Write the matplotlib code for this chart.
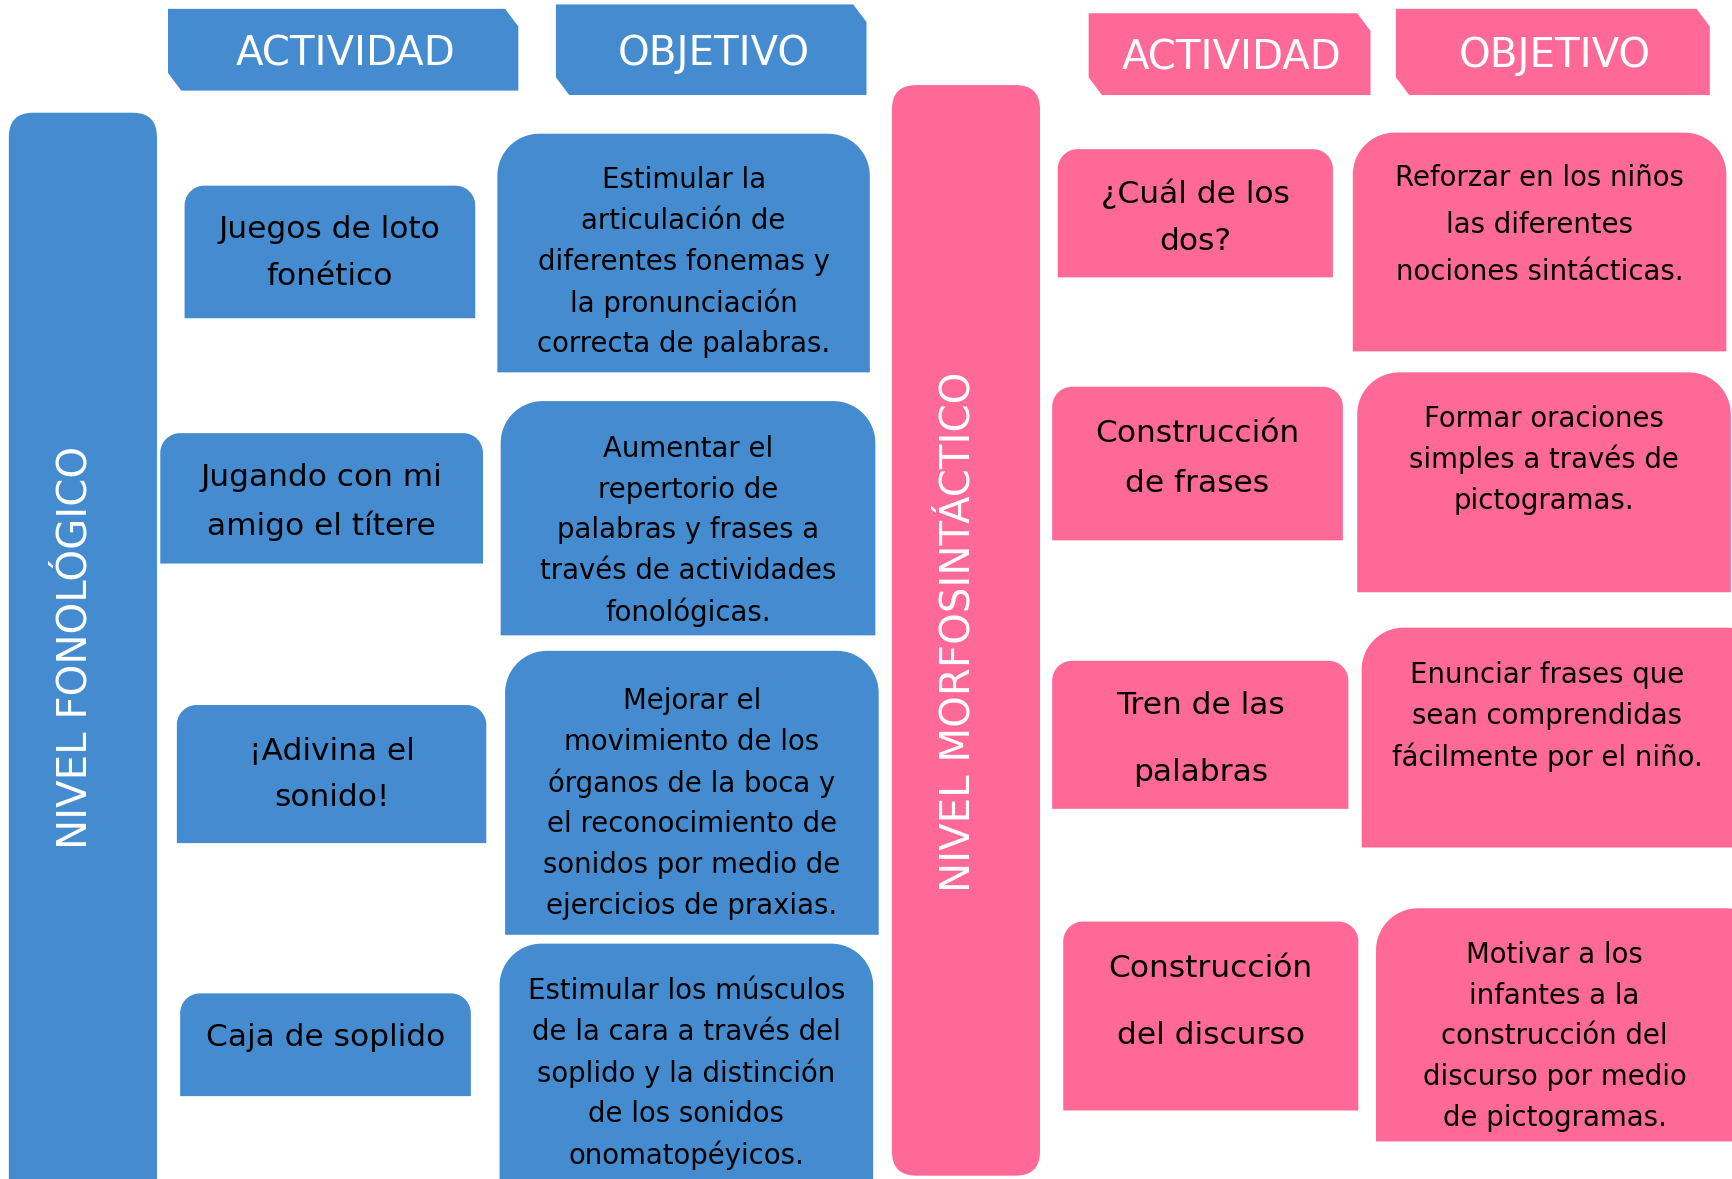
import numpy as np
import matplotlib
matplotlib.use("Agg")
import matplotlib.pyplot as plt
from matplotlib.patches import Polygon, FancyBboxPatch

BLUE = "#448CCF"
PINK = "#FF6998"

# texts
levels = ["NIVEL FONOLÓGICO", "NIVEL MORFOSINTÁCTICO"]
headers = ["ACTIVIDAD", "OBJETIVO"]

blue_activities = [
    ["Juegos de loto", "fonético"],
    ["Jugando con mi", "amigo el títere"],
    ["¡Adivina el", "sonido!"],
    ["Caja de soplido"],
]
blue_objectives = [
    ["Estimular la", "articulación de", "diferentes fonemas y",
     "la pronunciación", "correcta de palabras."],
    ["Aumentar el", "repertorio de", "palabras y frases a",
     "través de actividades", "fonológicas."],
    ["Mejorar el", "movimiento de los", "órganos de la boca y",
     "el reconocimiento de", "sonidos por medio de",
     "ejercicios de praxias."],
    ["Estimular los músculos", "de la cara a través del",
     "soplido y la distinción", "de los sonidos", "onomatopéyicos."],
]
pink_activities = [
    ["¿Cuál de los", "dos?"],
    ["Construcción", "de frases"],
    ["Tren de las", "palabras"],
    ["Construcción", "del discurso"],
]
pink_objectives = [
    ["Reforzar en los niños", "las diferentes", "nociones sintácticas."],
    ["Formar oraciones", "simples a través de", "pictogramas."],
    ["Enunciar frases que", "sean comprendidas", "fácilmente por el niño."],
    ["Motivar a los", "infantes a la", "construcción del",
     "discurso por medio", "de pictogramas."],
]

# layout (x0, y0, x1, y1, text centre y, line step) in a 1568x1067 frame
blue_act_boxes = [(167, 168, 430, 288, 229, 43), (145, 392, 437, 510, 454, 43),
                  (160, 638, 440, 763, 701, 42), (163, 899, 426, 992, 939, 43)]
blue_obj_boxes = [(450, 121, 787, 337, 237, 37), (453, 363, 792, 575, 480, 37),
                  (457, 589, 795, 846, 727, 37.2), (452, 854, 790, 1090, 971, 37.2)]
pink_act_boxes = [(957, 135, 1206, 251, 197, 44), (952, 350, 1215, 489, 415, 46),
                  (952, 598, 1220, 732, 669, 61), (962, 834, 1229, 1005, 907, 61)]
pink_obj_boxes = [(1224, 120, 1562, 318, 204, 42.5), (1228, 337, 1566, 536, 416, 37),
                  (1232, 568, 1600, 767, 648, 37), (1245, 822, 1600, 1033, 938, 37)]

FONT = "DejaVu Sans"


def top_round(ax, x0, y0, x1, y1, r, color):
    t1 = np.linspace(np.pi, 1.5 * np.pi, 20)
    t2 = np.linspace(1.5 * np.pi, 2 * np.pi, 20)
    pts = [(x0, y1)]
    pts += list(zip(x0 + r + r * np.cos(t1), y0 + r + r * np.sin(t1)))
    pts += list(zip(x1 - r + r * np.cos(t2), y0 + r + r * np.sin(t2)))
    pts += [(x1, y1)]
    p = Polygon(pts, closed=True, facecolor=color, edgecolor="none")
    ax.add_patch(p)
    return p


def snip_box(ax, x0, y0, x1, y1, color, sx=12, sy=16):
    pts = [(x0, y0), (x1 - sx, y0), (x1, y0 + sy), (x1, y1),
           (x0 + sx, y1), (x0, y1 - sy)]
    ax.add_patch(Polygon(pts, closed=True, facecolor=color, edgecolor="none"))


def lines_text(ax, lines, xc, yc, step, size, patch):
    n = len(lines)
    for i, line in enumerate(lines):
        y = yc + (i - (n - 1) / 2) * step
        t = ax.text(xc, y, line, ha="center", va="center", fontsize=size,
                    color="black", family=FONT)
        t.set_clip_path(patch)


fig = plt.figure(figsize=(17.33, 11.79), dpi=100)
ax = fig.add_axes([0, 0, 1, 1])
ax.set_xlim(0, 1568)
ax.set_ylim(1067, 0)
ax.axis("off")

# vertical level bars
for (x0, y0, x1, y1), col, label, yc in [((8, 102, 142, 1100), BLUE, levels[0], 586),
                                          ((807, 77, 941, 1064), PINK, levels[1], 572)]:
    ax.add_patch(FancyBboxPatch((x0, y0), x1 - x0, y1 - y0,
                                boxstyle="round,pad=0,rounding_size=22",
                                facecolor=col, edgecolor="none"))
    ax.text((x0 + x1) / 2 - 7, yc, label, rotation=90, ha="center", va="center",
            fontsize=29, color="white", family=FONT)

# headers
for (x0, y0, x1, y1), col, label in [((152, 8, 469, 82), BLUE, headers[0]),
                                      ((503, 4, 784, 86), BLUE, headers[1]),
                                      ((985, 12, 1240, 86), PINK, headers[0]),
                                      ((1263, 8, 1547, 86), PINK, headers[1])]:
    snip_box(ax, x0, y0, x1, y1, col)
    ax.text((x0 + x1) / 2 + 2, (y0 + y1) / 2 + 4, label, ha="center", va="center",
            fontsize=29, color="white", family=FONT)

for boxes, texts, col, r, size in [(blue_act_boxes, blue_activities, BLUE, 18, 22.5),
                                   (blue_obj_boxes, blue_objectives, BLUE, 38, 19.8),
                                   (pink_act_boxes, pink_activities, PINK, 18, 22.5),
                                   (pink_obj_boxes, pink_objectives, PINK, 38, 19.8)]:
    for (x0, y0, x1, y1, yc, step), lines in zip(boxes, texts):
        p = top_round(ax, x0, y0, x1, y1, r, col)
        xc = (x0 + min(x1, 1568)) / 2
        lines_text(ax, lines, xc, yc, step, size, p)

fig.savefig("out.png", dpi=100)
